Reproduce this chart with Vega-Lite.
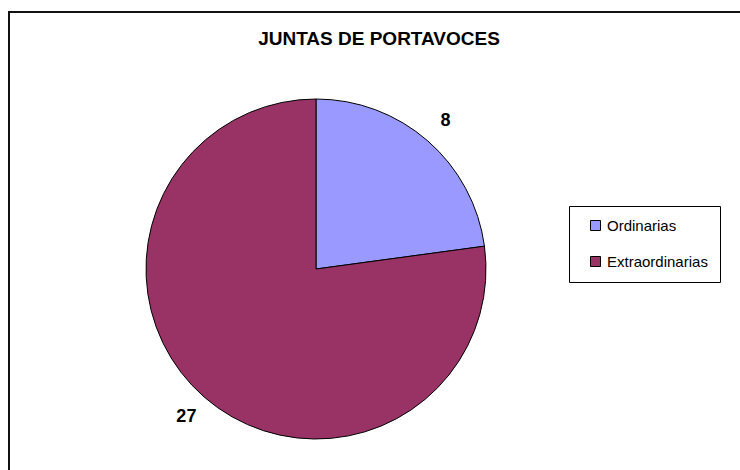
{
  "$schema": "https://vega.github.io/schema/vega-lite/v6.json",
  "width": 800,
  "height": 500,
  "autosize": {"type": "none"},
  "padding": {"left": 9, "top": 12, "right": 0, "bottom": 0},
  "background": "white",
  "view": {"stroke": "#111111", "strokeWidth": 2, "fill": "white"},
  "config": {
    "view": {"stroke": "#111111", "strokeWidth": 2},
    "font": "Liberation Sans"
  },
  "title": {
    "text": "JUNTAS DE PORTAVOCES",
    "font": "Liberation Sans",
    "fontSize": 19,
    "fontWeight": "bold",
    "color": "black",
    "anchor": "middle",
    "dx": -30,
    "offset": -56,
    "baseline": "bottom"
  },
  "data": {
    "values": [
      {"tipo": "Ordinarias", "valor": 8, "orden": 1},
      {"tipo": "Extraordinarias", "valor": 27, "orden": 2}
    ]
  },
  "encoding": {
    "theta": {"field": "valor", "type": "quantitative", "stack": true},
    "order": {"field": "orden", "type": "quantitative"}
  },
  "layer": [
    {
      "mark": {"type": "arc", "x": 307, "y": 257, "radius": 170, "stroke": "black", "strokeWidth": 1},
      "encoding": {
        "color": {
          "field": "tipo",
          "type": "nominal",
          "scale": {"domain": ["Ordinarias", "Extraordinarias"], "range": ["#9999FF", "#993366"]},
          "legend": {
            "orient": "none",
            "legendX": 560,
            "legendY": 194,
            "title": null,
            "strokeColor": "black",
            "fillColor": "white",
            "padding": 12,
            "symbolType": "square",
            "symbolSize": 100,
            "symbolOffset": 7,
            "symbolStrokeColor": "black",
            "symbolStrokeWidth": 1,
            "labelFont": "Liberation Sans",
            "labelFontSize": 15,
            "labelColor": "black",
            "labelOffset": 4,
            "rowPadding": 20
          }
        }
      }
    },
    {
      "mark": {"type": "text", "x": 307, "y": 257, "radius": 197, "fontSize": 18, "fontWeight": "bold", "font": "Liberation Sans", "color": "black"},
      "encoding": {
        "text": {"field": "valor", "type": "quantitative"}
      }
    }
  ]
}
